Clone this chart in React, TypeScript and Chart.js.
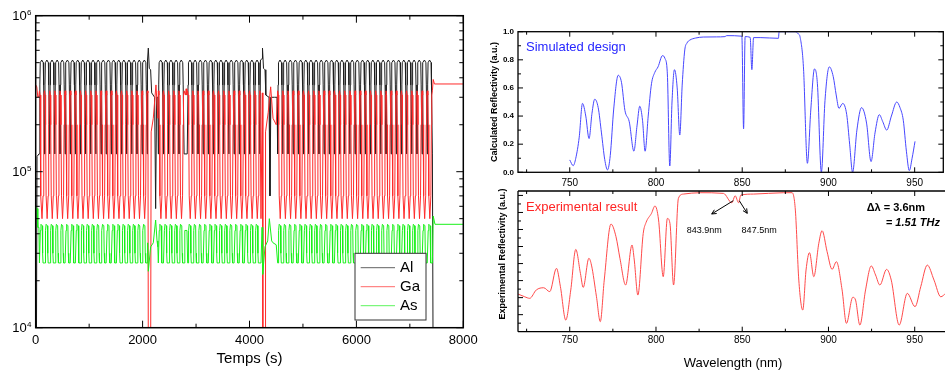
import React, { useEffect, useRef } from 'react';
import { Chart, registerables } from 'chart.js';

Chart.register(...registerables);

const FONT = '"Liberation Sans", Arial, Helvetica, sans-serif';

// ---------------- Left panel: Al / Ga / As signals vs time ----------------
// The growth signal is periodic: segments of identical cycles separated by transients.
const SEG_START = [70, 2294, 2843, 4527];
const SEG_PERIOD = [96, 96.5, 96.5, 96.5];
const SEG_CYCLES = [21, 5, 14, 30];

// one cycle (phase fraction, signal)
const AL_PHASE = [0, 0.08, 0.16, 0.45, 0.74, 0.82];
const AL_CYCLE = [1.3e5, 3.6e5, 5.0e5, 5.2e5, 5.0e5, 3.6e5];
const GA_PHASE = [0, 0.12, 0.2, 0.3, 0.5, 0.7, 0.8, 0.88];
const GA_CYCLE = [3.3e5, 3.1e5, 2.0e5, 7.0e4, 5.0e4, 7.0e4, 2.0e5, 3.1e5];
const AS_PHASE = [0, 0.1, 0.18, 0.3, 0.55, 0.62, 0.7];
const AS_CYCLE = [2.6e4, 2.6e4, 4.2e4, 4.6e4, 4.5e4, 3.0e4, 2.6e4];

// transients: before seg1, between segments, after last segment  [time, signal]
const AL_LINKS = [
  [[0, 5e3], [12, 5e3], [25, 1.25e5], [60, 1.3e5]],
  [[2092, 5.2e5], [2107, 6.2e5], [2125, 4.6e5], [2150, 4.5e5], [2170, 3.2e5], [2225, 3.0e5], [2244, 5.8e4], [2262, 3.0e5], [2285, 3.0e5]],
  [[2790, 1.3e5], [2835, 1.3e5]],
  [[4205, 5.2e5], [4235, 5.3e5], [4243, 6.2e5], [4262, 4.6e5], [4290, 4.5e5], [4305, 3.1e5], [4365, 3.0e5], [4383, 7e4], [4400, 3.0e5], [4470, 3.0e5], [4515, 3.0e5]],
  [[7436, 5e3], [8000, 5e3]],
];
const GA_LINKS = [
  [[0, 3.6e5], [20, 3.5e5], [40, 3.0e5], [58, 3.05e5]],
  [[2100, 3.2e5], [2107, 5e3], [2150, 5e3], [2160, 1.8e5], [2200, 2.2e5], [2250, 3.6e5], [2285, 2.2e5]],
  [[2800, 3.1e5], [2815, 3.4e5], [2828, 3.1e5]],
  [[4215, 5e4], [4240, 3.2e5], [4250, 5e3], [4290, 5e3], [4300, 1.8e5], [4350, 2.4e5], [4396, 3.5e5], [4440, 2.2e5], [4500, 2.0e5]],
  [[7437, 3.9e5], [7460, 3.65e5], [8000, 3.65e5]],
];
const AS_LINKS = [
  [[0, 6.0e4], [25, 5.8e4], [40, 4.4e4], [60, 4.4e4]],
  [[2095, 3.5e4], [2107, 2.3e4], [2151, 3.3e4], [2200, 3.5e4], [2244, 4.9e4], [2270, 3.6e4], [2285, 3.3e4]],
  [[2790, 4.2e4], [2830, 4.2e4]],
  [[4215, 2.6e4], [4235, 4.4e4], [4247, 2.2e4], [4290, 3.3e4], [4340, 3.6e4], [4371, 5e4], [4415, 3.6e4], [4440, 3.5e4], [4500, 3.4e4]],
  [[7437, 5.2e4], [7470, 4.6e4], [8000, 4.6e4]],
];

const LEFT_X_TICKS = [0, 2000, 4000, 6000, 8000];
const LEFT_X_MINOR = [1000, 3000, 5000, 7000];
const LEFT_Y_TICKS = [1e4, 1e5, 1e6];
const LEFT_Y_EXP = ['4', '5', '6'];
const LEGEND_NAMES = ['Al', 'Ga', 'As'];
const LEGEND_COLORS = ['#1e1e1e', '#ff2b2b', '#19f019'];

// ---------------- Right panels: reflectivity vs wavelength ----------------
const SIM_WL = [750, 752, 753.5, 755.5, 757.4, 759.3, 761.2, 762.9, 764.5, 766.5, 768.4, 770.3, 771.9, 773.5, 775.5, 778.1, 780, 782, 784.5, 787.2,
  789, 790.6, 792.2, 793.7, 795.5, 797.4, 799.3, 801.2, 803.8, 805.2, 806.6, 808, 809.3, 810.7, 812.3, 813.8, 815.2, 816.7, 818, 819.6,
  823, 827.4, 835, 840, 841, 849.8, 850.8, 851.7, 854.6, 855.6, 856.6, 860.4, 871, 871.4, 880.7, 882.5, 883.6, 885.5, 887.8, 889.8,
  891.9, 893.6, 895.9, 898, 900.5, 902.8, 904.5, 906.1, 908.3, 910.6, 912.3, 914, 916.5, 919.2, 922.1, 924.7, 927, 929.5, 931.5, 933.8,
  936.5, 939.6, 941.5, 943.4, 945.2, 946.9, 948.5, 950.2];
const SIM_R = [0.088, 0.047, 0.1, 0.25, 0.49, 0.4, 0.24, 0.42, 0.52, 0.46, 0.28, 0.09, 0.017, 0.12, 0.45, 0.69, 0.64, 0.44, 0.36, 0.15,
  0.33, 0.47, 0.37, 0.15, 0.4, 0.63, 0.71, 0.75, 0.83, 0.81, 0.7, 0.045, 0.5, 0.73, 0.6, 0.265, 0.62, 0.87, 0.92, 0.94,
  0.955, 0.962, 0.963, 0.965, 0.972, 0.968, 0.31, 0.965, 0.96, 0.73, 0.958, 0.958, 0.953, 1.0, 1.0, 0.985, 0.96, 0.75, 0.064, 0.45,
  0.735, 0.63, 0.0, 0.51, 0.75, 0.68, 0.55, 0.455, 0.49, 0.41, 0.2, 0.0, 0.3, 0.46, 0.35, 0.076, 0.28, 0.41, 0.36, 0.3,
  0.4, 0.5, 0.46, 0.37, 0.15, 0.012, 0.1, 0.22];

const EXP_WL = [720, 723.9, 726.8, 730.6, 734.9, 738.4, 742.3, 744.6, 747.7, 750.6, 753.5, 756.2, 757.8, 761.1, 762.6, 765.5, 767.7, 770, 773.9, 776.8,
  779.1, 782.4, 786.1, 787.4, 789.5, 792.6, 794.2, 797.4, 799.4, 801.5, 804.2, 806.6, 808.1, 810.2, 813, 815.9, 825.6, 839.1, 844, 845.9,
  847.9, 849.2, 856.6, 874, 878.9, 880.8, 882.8, 885.1, 887, 889, 891.5, 894.4, 896.3, 899.2, 902.1, 904.6, 907.9, 910.4, 914.1, 915.7,
  918.2, 921.5, 924.8, 927.3, 929.8, 933.7, 936.4, 941, 945.7, 950.2, 953.5, 957.3, 961.2, 965.1, 968];
const EXP_R = [0.221, 0.205, 0.196, 0.245, 0.258, 0.235, 0.372, 0.264, 0.068, 0.245, 0.483, 0.342, 0.26, 0.431, 0.391, 0.205, 0.059, 0.303, 0.632, 0.558,
  0.431, 0.274, 0.509, 0.421, 0.215, 0.577, 0.64, 0.695, 0.738, 0.656, 0.323, 0.665, 0.636, 0.274, 0.783, 0.808, 0.816, 0.812, 0.757, 0.798,
  0.757, 0.802, 0.808, 0.816, 0.816, 0.714, 0.303, 0.127, 0.362, 0.464, 0.323, 0.519, 0.593, 0.47, 0.366, 0.411, 0.245, 0.049, 0.202, 0.186,
  0.039, 0.245, 0.386, 0.333, 0.274, 0.366, 0.303, 0.039, 0.225, 0.147, 0.264, 0.391, 0.303, 0.205, 0.225];

const WL_TICKS = [750, 800, 850, 900, 950];
const WL_MINOR = [725, 775, 825, 875, 925];
const SIM_Y_TICKS = [0, 0.2, 0.4, 0.6, 0.8, 1.0];
const SIM_Y_MINOR = [0.1, 0.3, 0.5, 0.7, 0.9];
const EXP_Y_TICKS = [0.1, 0.2, 0.3, 0.4, 0.5, 0.6, 0.7, 0.8];
const EXP_Y_MINOR = [0.05, 0.15, 0.25, 0.35, 0.45, 0.55, 0.65, 0.75];

// annotations on the experimental panel (wavelength, reflectivity)
const PEAK_LABELS = ['843.9nm', '847.5nm'];
const PEAK_LABEL_POS = [[828, 0.593], [859.8, 0.593]];
const ARROW_FROM = [[844.8, 0.769], [848.3, 0.769]];
const ARROW_TO = [[832.3, 0.691], [852.9, 0.695]];

type Pt = { x: number; y: number };

function buildSeries(links: number[][][], phase: number[], cycle: number[]): Pt[] {
  const out: Pt[] = [];
  for (let s = 0; s < SEG_START.length; s++) {
    for (const [x, y] of links[s]) out.push({ x, y });
    const P = SEG_PERIOD[s];
    for (let c = 0; c < SEG_CYCLES[s]; c++) {
      const t0 = SEG_START[s] + c * P;
      for (let k = 0; k < phase.length; k++) out.push({ x: t0 + phase[k] * P, y: cycle[k] });
    }
    out.push({ x: SEG_START[s] + SEG_CYCLES[s] * P, y: cycle[0] });
  }
  for (const [x, y] of links[SEG_START.length]) out.push({ x, y });
  return out;
}

function seg(ctx: CanvasRenderingContext2D, x1: number, y1: number, x2: number, y2: number) {
  ctx.beginPath();
  ctx.moveTo(x1, y1);
  ctx.lineTo(x2, y2);
  ctx.stroke();
}

function arrow(ctx: CanvasRenderingContext2D, x1: number, y1: number, x2: number, y2: number) {
  seg(ctx, x1, y1, x2, y2);
  const ang = Math.atan2(y2 - y1, x2 - x1);
  const L = 5;
  ctx.beginPath();
  ctx.moveTo(x2 - L * Math.cos(ang - 0.45), y2 - L * Math.sin(ang - 0.45));
  ctx.lineTo(x2, y2);
  ctx.lineTo(x2 - L * Math.cos(ang + 0.45), y2 - L * Math.sin(ang + 0.45));
  ctx.stroke();
}

const leftPlugin = {
  id: 'leftFrame',
  afterDraw(chart: any) {
    const { ctx, chartArea: a } = chart;
    const xs = chart.scales.x;
    const ys = chart.scales.y;
    ctx.save();
    ctx.strokeStyle = '#000';
    ctx.lineWidth = 1;
    const xt = (v: number, len: number) => {
      const p = xs.getPixelForValue(v);
      seg(ctx, p, a.bottom, p, a.bottom - len);
      seg(ctx, p, a.top, p, a.top + len);
    };
    const yt = (v: number, len: number) => {
      const p = ys.getPixelForValue(v);
      seg(ctx, a.left, p, a.left + len, p);
      seg(ctx, a.right, p, a.right - len, p);
    };
    LEFT_X_TICKS.forEach((v) => xt(v, 7));
    LEFT_X_MINOR.forEach((v) => xt(v, 4));
    LEFT_Y_TICKS.forEach((v) => yt(v, 7));
    for (let d = 0; d < LEFT_Y_TICKS.length - 1; d++) {
      for (let m = 2; m <= 9; m++) yt(LEFT_Y_TICKS[d] * m, 4);
    }
    ctx.lineWidth = 1.5;
    ctx.strokeRect(a.left, a.top, a.right - a.left, a.bottom - a.top);

    ctx.fillStyle = '#000';
    ctx.font = `13px ${FONT}`;
    ctx.textAlign = 'center';
    ctx.textBaseline = 'middle';
    LEFT_X_TICKS.forEach((v) => ctx.fillText(String(v), xs.getPixelForValue(v), a.bottom + 13));
    LEFT_Y_TICKS.forEach((v, i) => {
      const p = ys.getPixelForValue(v);
      ctx.font = `13px ${FONT}`;
      ctx.textAlign = 'right';
      ctx.textBaseline = 'alphabetic';
      ctx.fillText('10', a.left - 9, p + 4.7);
      ctx.font = `8px ${FONT}`;
      ctx.textAlign = 'left';
      ctx.fillText(LEFT_Y_EXP[i], a.left - 8.7, p - 1);
    });
    ctx.font = `15px ${FONT}`;
    ctx.textAlign = 'center';
    ctx.textBaseline = 'middle';
    ctx.fillText('Temps (s)', (a.left + a.right) / 2, a.bottom + 31.3);

    // legend
    const lx = a.right - 108.3;
    const ly = a.bottom - 74.4;
    ctx.fillStyle = '#fff';
    ctx.fillRect(lx, ly, 71, 66.7);
    ctx.strokeStyle = '#333';
    ctx.lineWidth = 1;
    ctx.strokeRect(lx, ly, 71, 66.7);
    ctx.font = `15px ${FONT}`;
    ctx.textAlign = 'left';
    LEGEND_NAMES.forEach((name, i) => {
      const yy = ly + 14.4 + i * 19;
      ctx.strokeStyle = LEGEND_COLORS[i];
      ctx.globalAlpha = 0.7;
      seg(ctx, lx + 5.7, yy, lx + 40, yy);
      ctx.globalAlpha = 1;
      ctx.fillStyle = '#000';
      ctx.fillText(name, lx + 45, yy + 0.5);
    });
    ctx.restore();
  },
};

const simPlugin = {
  id: 'simFrame',
  afterDraw(chart: any) {
    const { ctx, chartArea: a } = chart;
    const xs = chart.scales.x;
    const ys = chart.scales.y;
    ctx.save();
    ctx.strokeStyle = '#000';
    ctx.lineWidth = 1;
    const xt = (v: number, len: number) => {
      const p = xs.getPixelForValue(v);
      seg(ctx, p, a.bottom, p, a.bottom - len);
      seg(ctx, p, a.top, p, a.top + len);
    };
    const yt = (v: number, len: number) => {
      const p = ys.getPixelForValue(v);
      seg(ctx, a.left, p, a.left + len, p);
      seg(ctx, a.right, p, a.right - len, p);
    };
    WL_TICKS.forEach((v) => xt(v, 5));
    WL_MINOR.forEach((v) => xt(v, 3));
    SIM_Y_TICKS.forEach((v) => yt(v, 5));
    SIM_Y_MINOR.forEach((v) => yt(v, 3));
    ctx.lineWidth = 1.3;
    ctx.strokeRect(a.left, a.top, a.right - a.left, a.bottom - a.top);

    ctx.fillStyle = '#000';
    ctx.font = `bold 8px ${FONT}`;
    ctx.textAlign = 'right';
    ctx.textBaseline = 'middle';
    SIM_Y_TICKS.forEach((v) => ctx.fillText(v.toFixed(1), a.left - 4, ys.getPixelForValue(v)));
    ctx.font = `10px ${FONT}`;
    ctx.textAlign = 'center';
    WL_TICKS.forEach((v) => ctx.fillText(String(v), xs.getPixelForValue(v), a.bottom + 10.7));
    ctx.save();
    ctx.translate(a.left - 23, (a.top + a.bottom) / 2);
    ctx.rotate(-Math.PI / 2);
    ctx.font = `bold 9px ${FONT}`;
    ctx.fillText('Calculated Reflectivity (a.u.)', 0, 0);
    ctx.restore();
    ctx.font = `13px ${FONT}`;
    ctx.fillStyle = '#2626ff';
    ctx.textAlign = 'left';
    ctx.fillText('Simulated design', a.left + 8, a.top + 15.5);
    ctx.restore();
  },
};

const expPlugin = {
  id: 'expFrame',
  afterDraw(chart: any) {
    const { ctx, chartArea: a } = chart;
    const xs = chart.scales.x;
    const ys = chart.scales.y;
    ctx.save();
    ctx.strokeStyle = '#000';
    ctx.lineWidth = 1;
    const xt = (v: number, len: number) => {
      const p = xs.getPixelForValue(v);
      seg(ctx, p, a.bottom, p, a.bottom - len);
      seg(ctx, p, a.top, p, a.top + len);
    };
    WL_TICKS.forEach((v) => xt(v, 5));
    WL_MINOR.forEach((v) => xt(v, 3));
    EXP_Y_TICKS.forEach((v) => {
      const p = ys.getPixelForValue(v);
      seg(ctx, a.left, p, a.left + 5, p);
    });
    EXP_Y_MINOR.forEach((v) => {
      const p = ys.getPixelForValue(v);
      seg(ctx, a.left, p, a.left + 3, p);
    });
    ctx.lineWidth = 1.3;
    seg(ctx, a.left, a.top, a.right, a.top);
    seg(ctx, a.left, a.bottom, a.right, a.bottom);
    seg(ctx, a.left, a.top, a.left, a.bottom);

    ctx.fillStyle = '#000';
    ctx.font = `10px ${FONT}`;
    ctx.textAlign = 'center';
    ctx.textBaseline = 'middle';
    WL_TICKS.forEach((v) => ctx.fillText(String(v), xs.getPixelForValue(v), a.bottom + 8.6));
    ctx.font = `13px ${FONT}`;
    ctx.fillText('Wavelength (nm)', 733 - 470, a.bottom + 31.3);
    ctx.save();
    ctx.translate(a.left - 15.7, a.top + 63);
    ctx.rotate(-Math.PI / 2);
    ctx.font = `bold 9px ${FONT}`;
    ctx.fillText('Experimental Reflectivity (a.u.)', 0, 0);
    ctx.restore();

    ctx.font = `13px ${FONT}`;
    ctx.fillStyle = '#ff2424';
    ctx.textAlign = 'left';
    ctx.fillText('Experimental result', a.left + 8, a.top + 16);

    // delta lambda
    ctx.fillStyle = '#000';
    ctx.textAlign = 'right';
    ctx.font = `bold 11px ${FONT}`;
    ctx.fillText('\u0394\u03bb = 3.6nm', 455, a.top + 17.3);
    ctx.font = `bold italic 11px ${FONT}`;
    const thz = '1.51 THz';
    ctx.fillText(thz, 470, a.top + 32.3);
    const w = ctx.measureText(thz).width;
    ctx.font = `bold 11px ${FONT}`;
    ctx.fillText('= ', 470 - w, a.top + 32.3);

    // peak markers
    ctx.font = `9px ${FONT}`;
    ctx.textAlign = 'center';
    PEAK_LABELS.forEach((t, i) => {
      ctx.fillText(t, xs.getPixelForValue(PEAK_LABEL_POS[i][0]), ys.getPixelForValue(PEAK_LABEL_POS[i][1]));
    });
    ctx.strokeStyle = '#000';
    ctx.lineWidth = 1;
    ARROW_FROM.forEach((f, i) => {
      arrow(ctx, xs.getPixelForValue(f[0]), ys.getPixelForValue(f[1]),
        xs.getPixelForValue(ARROW_TO[i][0]), ys.getPixelForValue(ARROW_TO[i][1]));
    });
    ctx.restore();
  },
};

function ChartBox({ left, top, width, height, make }: { left: number; top: number; width: number; height: number; make: () => any }) {
  const ref = useRef<HTMLCanvasElement>(null);
  useEffect(() => {
    const chart = new Chart(ref.current as HTMLCanvasElement, make());
    return () => chart.destroy();
  }, []);
  return (
    <canvas
      ref={ref}
      width={width}
      height={height}
      style={{ position: 'absolute', left, top, width, height }}
    />
  );
}

const baseOpts = {
  responsive: false,
  animation: false,
  devicePixelRatio: 1,
  events: [],
  plugins: { legend: { display: false }, tooltip: { enabled: false }, title: { display: false } },
  elements: { point: { radius: 0 } },
};

function makeLeft() {
  const al = buildSeries(AL_LINKS, AL_PHASE, AL_CYCLE);
  const ga = buildSeries(GA_LINKS, GA_PHASE, GA_CYCLE);
  const as = buildSeries(AS_LINKS, AS_PHASE, AS_CYCLE);
  return {
    type: 'line',
    data: {
      datasets: [
        { label: 'As', data: as, borderColor: LEGEND_COLORS[2], borderWidth: 1, pointRadius: 0, tension: 0 },
        { label: 'Ga', data: ga, borderColor: LEGEND_COLORS[1], borderWidth: 1, pointRadius: 0, tension: 0 },
        { label: 'Al', data: al, borderColor: LEGEND_COLORS[0], borderWidth: 1, pointRadius: 0, tension: 0 },
      ],
    },
    options: {
      ...baseOpts,
      parsing: false,
      layout: { padding: { left: 35.7, top: 15.7, right: 480 - 463.3, bottom: 376 - 327.7 } },
      scales: {
        x: { type: 'linear', display: false, min: 0, max: 8000 },
        y: { type: 'logarithmic', display: false, min: 1e4, max: 1e6 },
      },
    },
    plugins: [leftPlugin],
  };
}

function makeSim() {
  return {
    type: 'line',
    data: {
      datasets: [
        {
          label: 'Simulated design',
          data: SIM_WL.map((x, i) => ({ x, y: SIM_R[i] })),
          borderColor: '#4747ff',
          borderWidth: 1,
          pointRadius: 0,
          cubicInterpolationMode: 'monotone',
        },
      ],
    },
    options: {
      ...baseOpts,
      parsing: false,
      layout: { padding: { left: 48, top: 31.7, right: 475 - 473.3, bottom: 190 - 172.3 } },
      scales: {
        x: { type: 'linear', display: false, min: 720, max: 966.6 },
        y: { type: 'linear', display: false, min: 0, max: 1 },
      },
    },
    plugins: [simPlugin],
  };
}

function makeExp() {
  return {
    type: 'line',
    data: {
      datasets: [
        {
          label: 'Experimental result',
          data: EXP_WL.map((x, i) => ({ x, y: EXP_R[i] })),
          borderColor: '#ff4a4a',
          borderWidth: 1,
          pointRadius: 0,
          cubicInterpolationMode: 'monotone',
        },
      ],
    },
    options: {
      ...baseOpts,
      parsing: false,
      layout: { padding: { left: 48, top: 3, right: 2, bottom: 376 - 331.7 } },
      scales: {
        x: { type: 'linear', display: false, min: 720, max: 969.3 },
        y: { type: 'linear', display: false, min: 0, max: 0.826 },
      },
    },
    plugins: [expPlugin],
  };
}

export default function App() {
  return (
    <div style={{ position: 'absolute', left: 0, top: 0, width: 945, height: 376, overflow: 'hidden', background: '#fff' }}>
      <ChartBox left={470} top={0} width={475} height={190} make={makeSim} />
      <ChartBox left={470} top={188} width={480} height={188} make={makeExp} />
      <ChartBox left={0} top={0} width={480} height={376} make={makeLeft} />
    </div>
  );
}
